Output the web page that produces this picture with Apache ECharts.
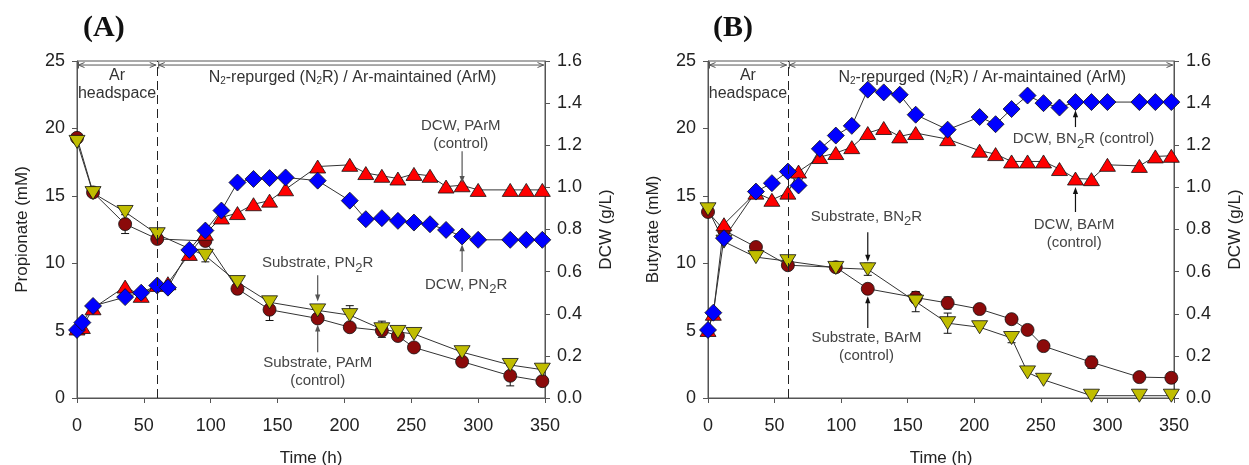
<!DOCTYPE html>
<html>
<head>
<meta charset="utf-8">
<script src="https://cdn.jsdelivr.net/npm/echarts@6/dist/echarts.min.js"></script>
<style>
  html, body { margin: 0; padding: 0; background: #fff; }
  #chart { width: 1249px; height: 465px; }
</style>
</head>
<body>
<div id="chart"></div>
<script>
const FONT = '"Liberation Sans", Arial, Helvetica, sans-serif';
const SERIF = '"Liberation Serif", "Times New Roman", serif';

// Axis ranges
const timeMin = 0, timeMax = 350, timeStep = 50;
const concMax = 25, concStep = 5;      // mM
const dcwMax = 1.6, dcwStep = 0.2;     // g/L
const phaseSwitch = 60;                // h, end of the Ar headspace phase

// ---- (A) Propionate ----
const tSubA   = [0, 12, 36, 60, 96, 120, 144, 180, 204, 228, 240, 252, 288, 324, 348];
const subPArM = [19.3, 15.25, 12.9, 11.8, 11.65, 8.1, 6.55, 5.9, 5.25, 5.0, 4.6, 3.75, 2.7, 1.65, 1.25];
const errPArM = [0, 0, 0.7, 0, 0, 0, 0.8, 0, 0, 0, 0.3, 0.25, 0.2, 0.75, 0];
const subPN2R = [19.0, 15.2, 13.8, 12.15, 10.55, 8.6, 7.1, 6.5, 6.15, 5.1, 4.9, 4.75, 3.4, 2.45, 2.1];
const errPN2R = [0, 0, 0, 0, 0.45, 0, 0, 0, 0.7, 0.6, 0.3, 0, 0, 0, 0];

const tDcwA   = [0, 4, 12, 36, 48, 60, 68, 84, 96, 108, 120, 132, 144, 156, 180, 204, 216, 228, 240, 252, 264, 276, 288, 300, 324, 336, 348];
const dcwPN2R = [0.323, 0.358, 0.437, 0.479, 0.50, 0.534, 0.524, 0.703, 0.795, 0.89, 1.023, 1.04, 1.044, 1.047, 1.032, 0.937, 0.849, 0.854, 0.841, 0.833, 0.825, 0.798, 0.767, 0.751, 0.751, 0.751, 0.751];
const dcwPArM = [0.33, 0.337, 0.426, 0.529, 0.485, 0.537, 0.545, 0.684, 0.78, 0.857, 0.878, 0.92, 0.937, 0.991, 1.099, 1.107, 1.068, 1.055, 1.042, 1.064, 1.055, 1.004, 1.01, 0.988, 0.988, 0.988, 0.988];

// ---- (B) Butyrate ----
const tSubB   = [0, 12, 36, 60, 96, 120, 156, 180, 204, 228, 240, 252, 288, 324, 348];
const subBArM = [13.8, 12.45, 11.2, 9.85, 9.7, 8.1, 7.45, 7.05, 6.6, 5.85, 5.05, 3.85, 2.65, 1.55, 1.5];
const errBArM = [0, 0, 0, 0, 0.3, 0, 0.4, 0.45, 0, 0, 0.25, 0, 0.45, 0, 0];
const subBN2R = [14.0, 11.6, 10.45, 10.15, 9.65, 9.55, 7.15, 5.55, 5.25, 4.45, 1.9, 1.35, 0.17, 0.17, 0.17];
const errBN2R = [0, 0, 0, 0, 0.3, 0.45, 0.75, 0.75, 0, 0.35, 0, 0, 0, 0, 0];

const tDcwB   = [0, 4, 12, 36, 48, 60, 68, 84, 96, 108, 120, 132, 144, 156, 180, 204, 216, 228, 240, 252, 264, 276, 288, 300, 324, 336, 348];
const dcwBN2R = [0.323, 0.405, 0.759, 0.98, 1.02, 1.075, 1.009, 1.183, 1.246, 1.292, 1.464, 1.451, 1.44, 1.345, 1.274, 1.334, 1.3, 1.372, 1.436, 1.4, 1.379, 1.405, 1.405, 1.405, 1.405, 1.405, 1.405];
const dcwBArM = [0.323, 0.40, 0.825, 0.975, 0.941, 0.975, 1.075, 1.144, 1.163, 1.191, 1.258, 1.282, 1.242, 1.258, 1.229, 1.174, 1.158, 1.123, 1.123, 1.123, 1.087, 1.042, 1.039, 1.107, 1.102, 1.147, 1.15];

// Marker styles
const MARK = {
  circle:  { symbol: 'circle',   size: 13,       rotate: 0,   color: '#8b0a0a' },
  invTri:  { symbol: 'triangle', size: [16, 13], rotate: 180, color: '#c0bd00' },
  tri:     { symbol: 'triangle', size: [16, 13], rotate: 0,   color: '#ff0000' },
  diamond: { symbol: 'diamond',  size: [17, 17], rotate: 0,   color: '#0000ff' }
};

function pairs(ts, vs) { return ts.map((t, i) => [t, vs[i]]); }

function lineSeries(name, g, yIdx, ts, vs, m, extra) {
  return Object.assign({
    name, type: 'line', xAxisIndex: g, yAxisIndex: yIdx,
    data: pairs(ts, vs),
    symbol: m.symbol, symbolSize: m.size, symbolRotate: m.rotate,
    showAllSymbol: true, animation: false,
    itemStyle: { color: m.color, borderColor: '#111', borderWidth: 0.8 },
    lineStyle: { color: '#333', width: 1 },
    emphasis: { disabled: true }
  }, extra || {});
}

function errorSeries(g, ts, vs, es) {
  return {
    type: 'custom', xAxisIndex: g, yAxisIndex: 2 * g, animation: false, silent: true,
    data: ts.map((t, i) => [t, vs[i], es[i]]).filter(d => d[2] > 0),
    renderItem(params, api) {
      const t = api.value(0), v = api.value(1), e = api.value(2);
      const lo = api.coord([t, v - e]), hi = api.coord([t, v + e]);
      const w = 4, st = { stroke: '#111', lineWidth: 1 };
      return { type: 'group', children: [
        { type: 'line', shape: { x1: lo[0], y1: lo[1], x2: hi[0], y2: hi[1] }, style: st },
        { type: 'line', shape: { x1: lo[0] - w, y1: lo[1], x2: lo[0] + w, y2: lo[1] }, style: st },
        { type: 'line', shape: { x1: hi[0] - w, y1: hi[1], x2: hi[0] + w, y2: hi[1] }, style: st }
      ] };
    }
  };
}

const axisColor = '#555';

function xAxis(g) {
  return {
    gridIndex: g, type: 'value', min: timeMin, max: timeMax, interval: timeStep,
    name: 'Time (h)', nameLocation: 'middle', nameGap: 52,
    nameTextStyle: { fontFamily: FONT, fontSize: 17, color: '#222' },
    axisLine: { show: true, onZero: false, lineStyle: { color: axisColor, width: 1 } },
    axisTick: { show: true, inside: false, length: 5, lineStyle: { color: axisColor } },
    axisLabel: { fontFamily: FONT, fontSize: 18, color: '#222', margin: 19 },
    splitLine: { show: false }
  };
}

function yLeft(g, name) {
  return {
    gridIndex: g, type: 'value', position: 'left', min: 0, max: concMax, interval: concStep,
    name, nameLocation: 'middle', nameGap: 46, nameRotate: 90,
    nameTextStyle: { fontFamily: FONT, fontSize: 17, color: '#222' },
    axisLine: { show: true, onZero: false, lineStyle: { color: axisColor, width: 1 } },
    axisTick: { show: true, inside: false, length: 5, lineStyle: { color: axisColor } },
    axisLabel: { fontFamily: FONT, fontSize: 18, color: '#222', margin: 12 },
    splitLine: { show: false }
  };
}

function yRight(g) {
  return {
    gridIndex: g, type: 'value', position: 'right', min: 0, max: dcwMax, interval: dcwStep,
    name: 'DCW (g/L)', nameLocation: 'middle', nameGap: 53, nameRotate: 90,
    nameTextStyle: { fontFamily: FONT, fontSize: 17, color: '#222' },
    axisLine: { show: true, onZero: false, lineStyle: { color: axisColor, width: 1 } },
    axisTick: { show: true, inside: false, length: 5, lineStyle: { color: axisColor } },
    axisLabel: { fontFamily: FONT, fontSize: 18, color: '#222', margin: 12,
                 formatter: v => v.toFixed(1) },
    splitLine: { show: false }
  };
}

const phaseLine = {
  silent: true, symbol: ['none', 'none'], animation: false,
  label: { show: false },
  lineStyle: { color: '#222', width: 1, type: [9, 5] },
  data: [{ xAxis: phaseSwitch }]
};

const gridBase = {
  top: 61, height: 337, show: true, borderColor: axisColor, borderWidth: 1,
  backgroundColor: 'transparent', containLabel: false, outerBoundsMode: 'none'
};

const option = {
  animation: false,
  backgroundColor: '#fff',
  title: [
    { text: '(A)', left: 78, top: 8, textStyle: { fontFamily: SERIF, fontSize: 30, fontWeight: 'bold', color: '#111' } },
    { text: '(B)', left: 708, top: 8, textStyle: { fontFamily: SERIF, fontSize: 30, fontWeight: 'bold', color: '#111' } }
  ],
  grid: [
    Object.assign({ left: 77, width: 468 }, gridBase),
    Object.assign({ left: 708, width: 466 }, gridBase)
  ],
  xAxis: [xAxis(0), xAxis(1)],
  yAxis: [yLeft(0, 'Propionate (mM)'), yRight(0), yLeft(1, 'Butyrate (mM)'), yRight(1)],
  series: [
    errorSeries(0, tSubA, subPArM, errPArM),
    errorSeries(0, tSubA, subPN2R, errPN2R),
    lineSeries('Substrate, PArM', 0, 0, tSubA, subPArM, MARK.circle, { markLine: phaseLine }),
    lineSeries('Substrate, PN2R', 0, 0, tSubA, subPN2R, MARK.invTri),
    lineSeries('DCW, PArM', 0, 1, tDcwA, dcwPArM, MARK.tri),
    lineSeries('DCW, PN2R', 0, 1, tDcwA, dcwPN2R, MARK.diamond),

    errorSeries(1, tSubB, subBArM, errBArM),
    errorSeries(1, tSubB, subBN2R, errBN2R),
    lineSeries('Substrate, BArM', 1, 2, tSubB, subBArM, MARK.circle, { markLine: phaseLine }),
    lineSeries('Substrate, BN2R', 1, 2, tSubB, subBN2R, MARK.invTri),
    lineSeries('DCW, BArM', 1, 3, tDcwB, dcwBArM, MARK.tri),
    lineSeries('DCW, BN2R', 1, 3, tDcwB, dcwBN2R, MARK.diamond)
  ]
};

const chart = echarts.init(document.getElementById('chart'), null, { renderer: 'canvas' });
chart.setOption(option);

// ---- Annotations (positions in time h / mM of the left axis) ----
function toPx(g, t, v) {
  return chart.convertToPixel({ xAxisIndex: g, yAxisIndex: 2 * g }, [t, v]);
}

function richText(s) {
  // "_2" marks a subscript digit
  return '{a|' + s.replace(/_(\d)/g, '}{s|$1}{a|') + '}';
}

function textEl(x, y, s, size, subSize, color) {
  return {
    type: 'text', silent: true, z: 100,
    style: {
      x, y, text: richText(s), align: 'center', verticalAlign: 'middle',
      rich: {
        a: { fontFamily: FONT, fontSize: size, fill: color },
        s: { fontFamily: FONT, fontSize: subSize, fill: color, padding: [Math.round(subSize * 0.8), 0, 0, 0] }
      }
    }
  };
}

function arrowEl(g, t, vFrom, vTo, color) {
  const p0 = toPx(g, t, vFrom), p1 = toPx(g, t, vTo);
  const dir = p1[1] > p0[1] ? 1 : -1;
  const hl = 7, hw = 2.6;
  return [
    { type: 'line', silent: true, z: 100, shape: { x1: p0[0], y1: p0[1], x2: p1[0], y2: p1[1] - dir * hl * 0.6 },
      style: { stroke: color, lineWidth: 1.2 } },
    { type: 'polygon', silent: true, z: 100,
      shape: { points: [[p1[0], p1[1]], [p1[0] - hw, p1[1] - dir * hl], [p1[0] + hw, p1[1] - dir * hl]] },
      style: { fill: color } }
  ];
}

// Phase bracket arrows along the top of each panel
function bracketEls(g, t0, t1, vLevel) {
  const a = toPx(g, t0, vLevel), b = toPx(g, t1, vLevel);
  const y = a[1], col = '#555', st = { stroke: col, lineWidth: 1, fill: null };
  const L = 6, H = 2.5;
  return [
    { type: 'line', silent: true, z: 90, shape: { x1: a[0] + 1, y1: y, x2: b[0] - 1, y2: y }, style: st },
    { type: 'line', silent: true, z: 90, shape: { x1: a[0] + 1.5, y1: y - 3.5, x2: a[0] + 1.5, y2: y + 3.5 }, style: st },
    { type: 'polyline', silent: true, z: 90, shape: { points: [[a[0] + 1.5 + L, y - H], [a[0] + 1.5, y], [a[0] + 1.5 + L, y + H]] }, style: st },
    { type: 'polyline', silent: true, z: 90, shape: { points: [[b[0] - 1.5 - L, y - H], [b[0] - 1.5, y], [b[0] - 1.5 - L, y + H]] }, style: st }
  ];
}

const headers = [
  { g: 0, t: 30, v: 23.95, s: 'Ar' },
  { g: 0, t: 30, v: 22.55, s: 'headspace' },
  { g: 0, t: 206, v: 23.8, s: 'N_2-repurged (N_2R) / Ar-maintained (ArM)' },
  { g: 1, t: 30, v: 23.95, s: 'Ar' },
  { g: 1, t: 30, v: 22.55, s: 'headspace' },
  { g: 1, t: 206, v: 23.8, s: 'N_2-repurged (N_2R) / Ar-maintained (ArM)' }
];

const notes = [
  { g: 0, t: 287, v: 20.2, lines: ['DCW, PArM', '(control)'], arrow: [288, 18.3, 15.95], color: '#555' },
  { g: 0, t: 291, v: 8.4,  lines: ['DCW, PN_2R'], arrow: [288, 9.35, 11.4], color: '#555' },
  { g: 0, t: 180, v: 10.0, lines: ['Substrate, PN_2R'], arrow: [180, 9.1, 7.15], color: '#555' },
  { g: 0, t: 180, v: 2.6,  lines: ['Substrate, PArM', '(control)'], arrow: [180, 3.4, 5.45], color: '#555' },
  { g: 1, t: 119, v: 13.45, lines: ['Substrate, BN_2R'], arrow: [120, 12.3, 10.1], color: '#111' },
  { g: 1, t: 119, v: 4.43, lines: ['Substrate, BArM', '(control)'], arrow: [120, 5.2, 7.55], color: '#111' },
  { g: 1, t: 282, v: 19.2, lines: ['DCW, BN_2R (control)'], arrow: [276, 20.1, 21.35], color: '#111' },
  { g: 1, t: 275, v: 12.84, lines: ['DCW, BArM', '(control)'], arrow: [276, 13.8, 15.65], color: '#111' }
];

const graphics = [];
[0, 1].forEach(g => graphics.push(...bracketEls(g, 0, phaseSwitch, 24.7), ...bracketEls(g, phaseSwitch, timeMax, 24.7)));
headers.forEach(h => {
  const p = toPx(h.g, h.t, h.v);
  graphics.push(textEl(p[0], p[1], h.s, 16, 10, '#333'));
});
notes.forEach(n => {
  const p = toPx(n.g, n.t, n.v);
  n.lines.forEach((s, i) => graphics.push(textEl(p[0], p[1] + i * 18, s, 15, 13, '#444')));
  graphics.push(...arrowEl(n.g, n.arrow[0], n.arrow[1], n.arrow[2], n.color));
});

chart.setOption({ graphic: { elements: graphics } });
</script>
</body>
</html>
